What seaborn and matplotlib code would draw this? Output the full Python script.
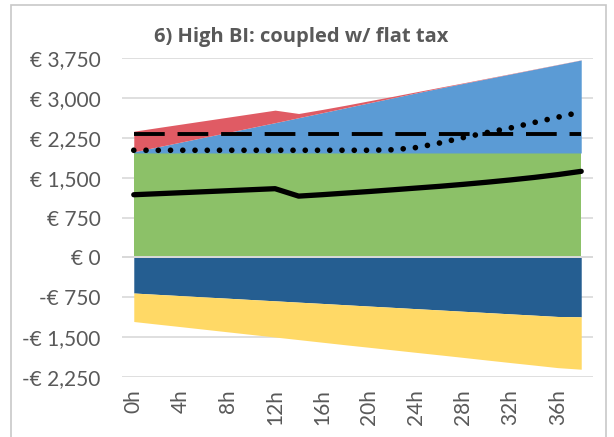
import matplotlib
matplotlib.use("Agg")
import matplotlib.pyplot as plt
from matplotlib.patches import Rectangle
import seaborn as sns
import pandas as pd

# ---- data ----
hours = [0, 2, 4, 6, 8, 10, 12, 14, 16, 18, 20, 22, 24, 26, 28, 30, 32, 34, 36, 38]
basic_income = [1966] * 20
wage = [22, 114, 205, 297, 388, 480, 571, 665, 758, 852, 946, 1039, 1133, 1224,
        1312, 1400, 1488, 1576, 1664, 1752]
benefit = [388, 363, 338, 312, 287, 261, 236, 79, 62, 48, 38, 28, 20, 14, 10, 8, 6, 5, 4, 3]
bi_payback = [-673, -698, -722, -747, -771, -796, -820, -845, -869, -894, -919, -943,
              -968, -992, -1017, -1041, -1066, -1090, -1115, -1121]
flat_tax = [-537, -561, -585, -609, -634, -658, -682, -706, -731, -755, -777, -801,
            -824, -847, -870, -895, -918, -941, -964, -988]
net_income = [1179, 1198, 1217, 1236, 1255, 1274, 1293, 1153, 1180, 1210, 1240, 1272,
              1305, 1338, 1375, 1415, 1458, 1505, 1558, 1620]
reference_line = [2325] * 20
dotted_line = [2017, 2017, 2017, 2017, 2017, 2017, 2017, 2017, 2017, 2017, 2017, 2026,
               2068, 2155, 2257, 2351, 2438, 2540, 2640, 2739]

title = "6) High BI: coupled w/ flat tax"
x_ticks = [0, 4, 8, 12, 16, 20, 24, 28, 32, 36]
x_labels = [f"{h}h" for h in x_ticks]
y_ticks = [-2250, -1500, -750, 0, 750, 1500, 2250, 3000, 3750]


def euro(v):
    return ("-€ " if v < 0 else "€ ") + f"{abs(v):,}"


y_labels = [euro(v) for v in y_ticks]

df = pd.DataFrame({"h": hours, "net": net_income, "ref": reference_line, "dot": dotted_line})

# ---- styling ----
sns.set_theme(style="white")
plt.rcParams["font.family"] = ["Lato", "DejaVu Sans"]
txt_col = "#595959"
grid_col = "#d9d9d9"

fig = plt.figure(figsize=(6.14, 4.37), dpi=100)
W, H = 614, 437
ax = fig.add_axes([122 / W, 1 - 376.7 / H, (593 - 122) / W, (376.7 - 58.3) / H])

# outer chart border
fig.patches.append(Rectangle((10.5 / W, -0.05), (606 - 10.5) / W, 1.05 - 5.5 / H,
                             transform=fig.transFigure, fill=False,
                             edgecolor="#c8c8c8", linewidth=1.2))

# stacked areas
ax.stackplot(hours, basic_income, wage, benefit,
             colors=["#8CC168", "#5B9BD5", "#E05B64"], linewidth=0, zorder=2)
ax.stackplot(hours, bi_payback, flat_tax,
             colors=["#255E91", "#FFD966"], linewidth=0, zorder=2)

# zero axis line
ax.axhline(0, color=grid_col, lw=1.4, zorder=3)

# lines
sns.lineplot(data=df, x="h", y="net", ax=ax, color="black", linewidth=3.8,
             solid_capstyle="round", zorder=5)
sns.lineplot(data=df, x="h", y="ref", ax=ax, color="black", linewidth=2.8, zorder=5)
ax.lines[-1].set_linestyle((0, (7.9, 3.3)))
ax.lines[-1].set_dash_capstyle("butt")
sns.lineplot(data=df, x="h", y="dot", ax=ax, color="black", linewidth=4.1, zorder=5)
ax.lines[-1].set_linestyle((0, (0.001, 2.15)))
ax.lines[-1].set_dash_capstyle("round")

# axes
ax.set_xlim(-1, 39)
ax.set_ylim(-2250, 3750)
ax.set_yticks(y_ticks)
ax.set_yticklabels(y_labels)
ax.set_xticks(x_ticks)
ax.set_xticklabels(x_labels, rotation=90)
ax.set_xlabel("")
ax.set_ylabel("")
ax.tick_params(axis="y", length=0, pad=15.5, labelsize=15, labelcolor=txt_col)
ax.tick_params(axis="x", length=0, pad=9, labelsize=15, labelcolor=txt_col)
ax.yaxis.grid(True, color=grid_col, linewidth=1.2, zorder=0)
ax.set_axisbelow(True)
for s in ax.spines.values():
    s.set_visible(False)
ax.set_facecolor("white")

fig.text(301 / W, 1 - 37 / H, title, ha="center", va="center", fontsize=14.5,
         fontweight="bold", color=txt_col, family=["Open Sans", "DejaVu Sans"])

fig.savefig("out.png", dpi=100)
